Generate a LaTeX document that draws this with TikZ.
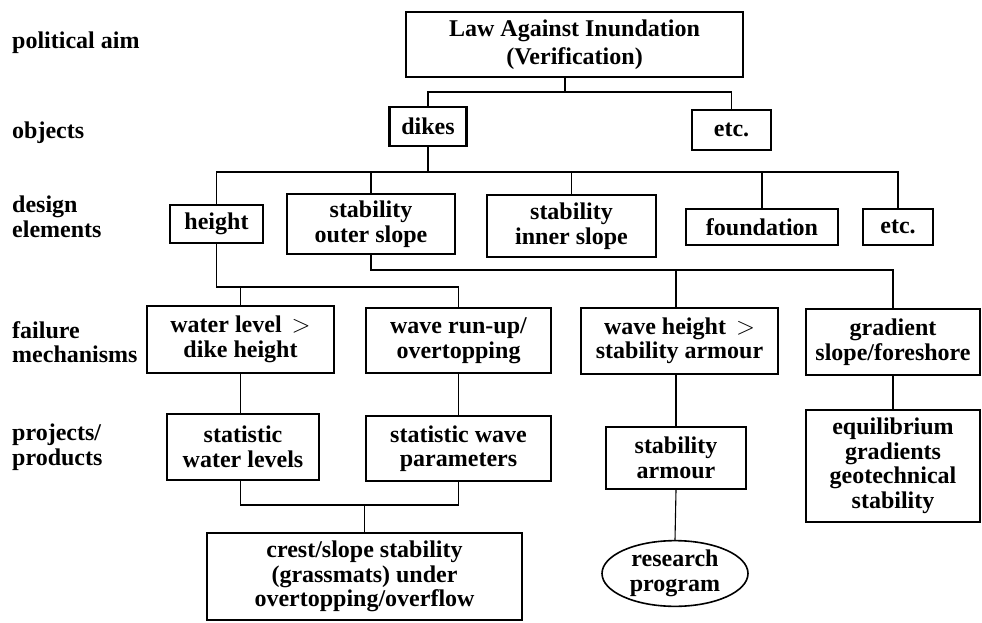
\documentclass[tikz,border=0pt]{standalone}
\usepackage{fontspec}
\setmainfont{Liberation Serif}
\usetikzlibrary{shapes.geometric}
\begin{document}
\begin{tikzpicture}[x=1pt,y=-1pt,
  txt/.style={font=\bfseries\fontsize{24}{24.5}\selectfont},
  box/.style={txt, draw, line width=2.2pt, align=center, inner sep=0pt},
  lbl/.style={txt, anchor=west, align=left, inner sep=0pt},
  con/.style={line width=1.1pt}]
\useasboundingbox (0,0) rectangle (982,623);
% left labels
\node[lbl] (l1) at (12,43) {political aim};
\node[lbl] (l2) at (12,133) {objects};
\node[lbl] (l3) at (12,217) {design\\elements};
\node[lbl] (l4) at (12,342) {failure\\mechanisms};
\node[lbl] (l5) at (12,447) {projects/\\products};
% boxes
\node[box, minimum width=337, minimum height=65, font=\bfseries\fontsize{24}{28}\selectfont] (law) at (574.5,44.5) {Law Against Inundation\\(Verification)};
\node[box, minimum width=77, minimum height=39] (dikes) at (428,126.5) {dikes};
\node[box, minimum width=79, minimum height=40] (etc1) at (731.5,130) {etc.};
\node[box, minimum width=93, minimum height=38] (height) at (216.5,224) {height};
\node[box, minimum width=168, minimum height=60] (outer) at (371,224) {stability\\outer slope};
\node[box, minimum width=169, minimum height=62] (inner) at (571.5,226) {stability\\inner slope};
\node[box, minimum width=152, minimum height=36] (found) at (762,227) {foundation};
\node[box, minimum width=70, minimum height=36] (etc2) at (898,227) {etc.};
\node[box, minimum width=187, minimum height=67] (water) at (240.5,339.5) {water level \,$>$\\dike height};
\node[box, minimum width=185, minimum height=65] (runup) at (458.5,340.5) {wave run-up/\\overtopping};
\node[box, minimum width=197, minimum height=66] (waveh) at (679.5,341) {wave height \,$>$\\stability armour};
\node[box, minimum width=174, minimum height=66] (grad) at (893,342) {gradient\\slope/foreshore};
\node[box, minimum width=152, minimum height=66] (statwl) at (243,447) {statistic\\water levels};
\node[box, minimum width=185, minimum height=65] (statwp) at (458.5,448.5) {statistic wave\\parameters};
\node[box, minimum width=140, minimum height=62] (armour) at (676,458) {stability\\armour};
\node[box, minimum width=174, minimum height=112] (equi) at (893,466) {equilibrium\\gradients\\geotechnical\\stability};
\node[box, minimum width=315, minimum height=87] (crest) at (364.5,576.5) {crest/slope stability\\(grassmats) under\\overtopping/overflow};
\node[box, ellipse, line width=1.6pt, minimum width=146, minimum height=65] (research) at (675,573.5) {research\\program};
% connectors
\coordinate (b1) at (565,92);
\draw[con] (b1 |- law.south) -- (b1);
\draw[con] (dikes.north) -- (dikes.north |- b1) -- (etc1.north |- b1) -- (etc1.north);
\coordinate (b2) at (428,172);
\draw[con] (dikes.south) -- (b2);
\draw[con] (height.north) -- (height.north |- b2) -- (etc2.north |- b2) -- (etc2.north);
\draw[con] (outer.north) -- (outer.north |- b2);
\draw[con] (inner.north) -- (inner.north |- b2);
\draw[con] (found.north) -- (found.north |- b2);
\coordinate (b3) at (371,270);
\draw[con] (outer.south) -- (b3) -- (grad.north |- b3) -- (grad.north);
\draw[con] (armour.north |- b3) -- (armour.north |- waveh.north);
\coordinate (b4) at (216.5,287);
\draw[con] (height.south) -- (b4) -- (runup.north |- b4) -- (runup.north);
\draw[con] (water.north |- b4) -- (water.north);
\draw[con] (water.south) -- (water.south |- statwl.north);
\draw[con] (runup.south) -- (statwp.north);
\draw[con] (armour.north |- waveh.south) -- (armour.north);
\draw[con] (grad.south) -- (equi.north);
\coordinate (b5) at (364.5,505);
\draw[con] (water.south |- statwl.south) -- (water.south |- b5) -- (statwp.south |- b5) -- (statwp.south);
\draw[con] (b5) -- (crest.north);
\draw[con] (armour.south) -- (research.north);
\end{tikzpicture}
\end{document}
